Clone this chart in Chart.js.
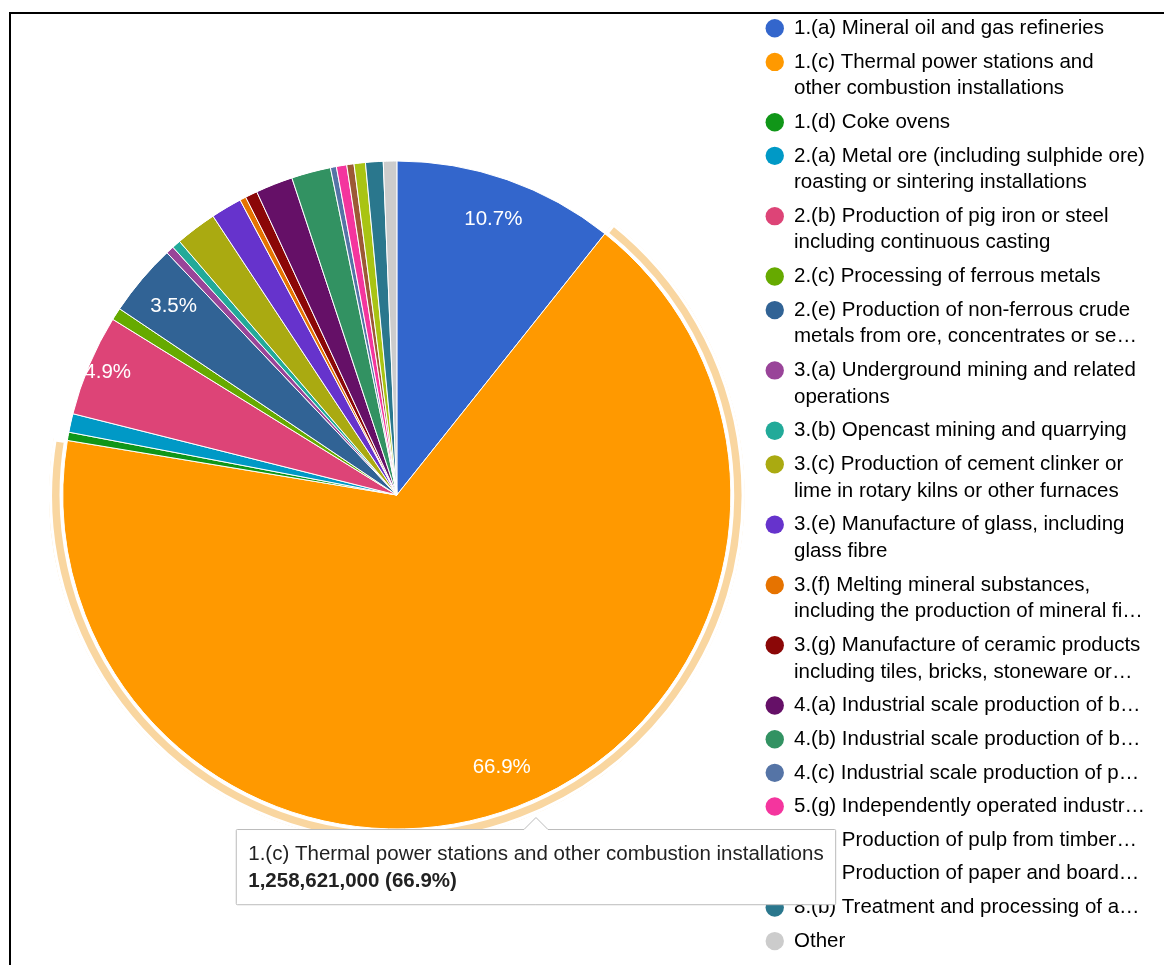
<!DOCTYPE html>
<html>
<head>
<meta charset="utf-8">
<script src="https://cdn.jsdelivr.net/npm/chart.js@4/dist/chart.umd.min.js"></script>
<style>
    body { margin: 0; width: 1164px; height: 965px; overflow: hidden; background: #fff; position: relative; }
    #frame { position: absolute; left: 9px; top: 12px; right: 0; bottom: -10px; border-top: 2px solid #000; border-left: 2px solid #000; }
    #pieChart { position: absolute; left: 0; top: 0; }
</style>
</head>
<body>
<div id="frame"></div>
<canvas id="pieChart" width="1164" height="979"></canvas>
<script>
// categories, as shown in the legend (one array of lines per entry)
const categories = [
    ['1.(a) Mineral oil and gas refineries'],
    ['1.(c) Thermal power stations and', 'other combustion installations'],
    ['1.(d) Coke ovens'],
    ['2.(a) Metal ore (including sulphide ore)', 'roasting or sintering installations'],
    ['2.(b) Production of pig iron or steel', 'including continuous casting'],
    ['2.(c) Processing of ferrous metals'],
    ['2.(e) Production of non-ferrous crude', 'metals from ore, concentrates or se\u2026'],
    ['3.(a) Underground mining and related', 'operations'],
    ['3.(b) Opencast mining and quarrying'],
    ['3.(c) Production of cement clinker or', 'lime in rotary kilns or other furnaces'],
    ['3.(e) Manufacture of glass, including', 'glass fibre'],
    ['3.(f) Melting mineral substances,', 'including the production of mineral fi\u2026'],
    ['3.(g) Manufacture of ceramic products', 'including tiles, bricks, stoneware or\u2026'],
    ['4.(a) Industrial scale production of b\u2026'],
    ['4.(b) Industrial scale production of b\u2026'],
    ['4.(c) Industrial scale production of p\u2026'],
    ['5.(g) Independently operated industr\u2026'],
    ['6.(a) Production of pulp from timber\u2026'],
    ['6.(b) Production of paper and board\u2026'],
    ['8.(b) Treatment and processing of a\u2026'],
    ['Other']
]

// emissions per activity
const values = [
    201304000, 1258621000, 7525000, 16932000, 92186000, 11288000, 65847000,
    7310000, 7900000, 37627000, 28220000, 5644000, 11050000, 33864000,
    35746000, 5410000, 9407000, 6585000, 10347000, 15991000, 12229000
]

const colors = [
    '#3366cc', '#ff9900', '#109618', '#0099c6', '#dd4477', '#66aa00', '#316395',
    '#994499', '#22aa99', '#aaaa11', '#6633cc', '#e67300', '#8b0707', '#651067',
    '#329262', '#5574a6', '#f4359e', '#9c5935', '#a9c413', '#2a778d', '#cccccc'
]

// the slice that is hovered in the picture
const activeIndex = 1

const total = values.reduce((a, b) => a + b, 0)
const pct = (v) => (v / total * 100).toFixed(1)

const FONT = 'Arial, "Liberation Sans", sans-serif'
Chart.defaults.font.family = FONT
Chart.defaults.color = '#333'

// tooltip sits just outside the rim of the hovered slice
Chart.Tooltip.positioners.sliceEdge = function (items) {
    if (!items.length) return false
    const arc = items[0].element
    const { x, y, startAngle, endAngle, outerRadius } = arc.getProps(['x', 'y', 'startAngle', 'endAngle', 'outerRadius'], true)
    const a = startAngle + (endAngle - startAngle) * 0.488
    const r = outerRadius + 9
    return { x: x + Math.cos(a) * r, y: y + Math.sin(a) * r }
}

const sliceLabels = {
    id: 'sliceLabels',
    afterDatasetsDraw(chart) {
        const ctx = chart.ctx
        const meta = chart.getDatasetMeta(1)
        ctx.save()
        ctx.font = '20.5px ' + FONT
        ctx.fillStyle = '#fff'
        ctx.textAlign = 'center'
        ctx.textBaseline = 'middle'
        meta.data.forEach((arc, i) => {
            const p = values[i] / total * 100
            if (p < 3) return
            const { x, y, startAngle, endAngle, outerRadius } = arc.getProps(['x', 'y', 'startAngle', 'endAngle', 'outerRadius'], true)
            const mid = (startAngle + endAngle) / 2
            const r = outerRadius * (p >= 4 && p < 8 ? 0.94 : 0.875)
            ctx.fillText(pct(values[i]) + '%', x + Math.cos(mid) * r, y + Math.sin(mid) * r)
        })
        ctx.restore()
    }
}

const ctx = document.getElementById('pieChart').getContext('2d')

const chart = new Chart(ctx, {
    type: 'pie',
    data: {
        labels: categories,
        datasets: [{
            // highlight ring around the hovered slice
            data: values,
            weight: 14,
            backgroundColor: colors.map((c, i) => i === activeIndex ? '#f9d6a0' : 'rgba(0,0,0,0)'),
            borderColor: '#fff',
            borderWidth: 3,
            borderAlign: 'inner',
        }, {
            data: values,
            weight: 334,
            backgroundColor: colors,
            borderColor: '#fff',
            borderWidth: 1,
        }]
    },
    options: {
        responsive: false,
        animation: false,
        events: [],
        radius: 348,
        layout: {
            padding: { left: 35, top: 11, right: 9, bottom: 0 }
        },
        plugins: {
            legend: {
                position: 'right',
                align: 'start',
                labels: {
                    usePointStyle: true,
                    boxWidth: 18,
                    boxHeight: 13,
                    padding: 7,
                    color: '#333',
                    font: { size: 20.5, lineHeight: 1.3 },
                    generateLabels: (chart) => categories.map((lines, i) => ({
                        text: lines,
                        fillStyle: colors[i],
                        strokeStyle: colors[i],
                        lineWidth: 0,
                        pointStyle: 'circle',
                        hidden: false,
                        index: i,
                    }))
                }
            },
            tooltip: {
                position: 'sliceEdge',
                xAlign: 'center',
                yAlign: 'top',
                backgroundColor: '#fff',
                borderColor: '#bbb',
                borderWidth: 1,
                cornerRadius: 1,
                caretSize: 12,
                caretPadding: 9,
                displayColors: false,
                titleColor: '#222',
                bodyColor: '#222',
                titleFont: { size: 20.5, weight: 'normal' },
                bodyFont: { size: 20.5, weight: 'bold' },
                titleMarginBottom: 2,
                padding: { top: 13, left: 12, right: 12, bottom: 11 },
                callbacks: {
                    title: (items) => categories[items[0].dataIndex].map(s => s.replace(/\u2026$/, '')).join(' '),
                    label: (item) => item.raw.toLocaleString('en-US') + ' (' + pct(item.raw) + '%)'
                }
            }
        }
    },
    plugins: [sliceLabels]
})

chart.tooltip.setActiveElements([{ datasetIndex: 1, index: activeIndex }], { x: 0, y: 0 })
chart.update()
</script>
</body>
</html>
